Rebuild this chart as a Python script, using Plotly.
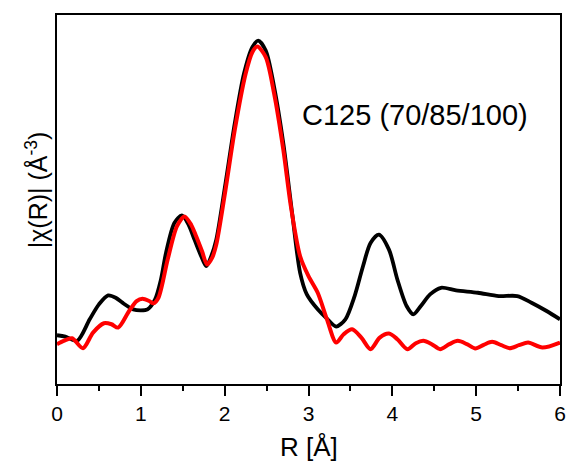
import plotly.graph_objects as go

# Experimental |chi(R)| (black)
r_exp = [0.00, 0.10, 0.24, 0.39, 0.50, 0.61, 0.70, 0.78, 0.91, 1.00, 1.08, 1.17, 1.24, 1.30, 1.40, 1.49,
         1.57, 1.64, 1.72, 1.78, 1.84, 1.90, 2.01, 2.12, 2.23, 2.33, 2.40, 2.49, 2.59, 2.70, 2.81,
         2.90, 2.98, 3.11, 3.22, 3.33, 3.44, 3.55, 3.65, 3.74, 3.84, 3.96, 4.06, 4.17, 4.25, 4.34,
         4.45, 4.58, 4.76, 5.02, 5.27, 5.49, 5.66, 5.84, 6.00]
chi_exp = [1.42, 1.38, 1.25, 1.90, 2.35, 2.62, 2.55, 2.40, 2.20, 2.17, 2.20, 2.50, 3.10, 3.90, 4.80, 5.03,
           4.75, 4.30, 3.80, 3.50, 3.80, 4.30, 6.00, 7.80, 9.30, 10.10, 10.30, 10.00, 8.90, 7.20, 5.00,
           3.30, 2.65, 2.20, 1.92, 1.68, 1.90, 2.60, 3.50, 4.20, 4.45, 4.00, 3.10, 2.30, 2.05, 2.30,
           2.65, 2.85, 2.77, 2.70, 2.60, 2.60, 2.40, 2.15, 1.90]

# Fit (red)
r_fit = [0.00, 0.08, 0.18, 0.31, 0.43, 0.56, 0.65, 0.73, 0.86, 0.95, 1.02, 1.10, 1.15, 1.21, 1.32, 1.43,
         1.52, 1.60, 1.66, 1.73, 1.79, 1.85, 1.90, 2.01, 2.12, 2.25, 2.33, 2.39, 2.49, 2.59, 2.70,
         2.79, 2.90, 3.00, 3.11, 3.22, 3.33, 3.42, 3.52, 3.63, 3.74, 3.85, 3.96, 4.06, 4.18, 4.28,
         4.37, 4.47, 4.57, 4.68, 4.78, 4.89, 4.99, 5.09, 5.19, 5.30, 5.40, 5.51, 5.62, 5.79, 6.00]
chi_fit = [1.15, 1.25, 1.33, 1.03, 1.50, 1.78, 1.75, 1.65, 2.15, 2.45, 2.52, 2.45, 2.38, 2.55, 3.70, 4.70,
           5.00, 4.75, 4.40, 3.95, 3.55, 3.75, 4.15, 5.80, 7.60, 9.30, 9.95, 10.12, 9.80, 8.70, 7.00,
           5.30, 3.80, 3.20, 2.70, 1.90, 1.20, 1.45, 1.60, 1.35, 1.00, 1.35, 1.47, 1.30, 1.00, 1.18,
           1.25, 1.15, 1.00, 1.15, 1.25, 1.15, 1.02, 1.13, 1.22, 1.12, 1.03, 1.12, 1.20, 1.05, 1.20]

x_ticks = [0, 1, 2, 3, 4, 5, 6]
label_text = "C125 (70/85/100)"

FONT = "Liberation Sans, Arial, sans-serif"

fig = go.Figure()
fig.add_trace(go.Scatter(x=r_exp, y=chi_exp, mode="lines",
                         line=dict(color="black", width=3.8, shape="spline", smoothing=0.8),
                         showlegend=False))
fig.add_trace(go.Scatter(x=r_fit, y=chi_fit, mode="lines",
                         line=dict(color="#ff0000", width=4, shape="spline", smoothing=0.8),
                         showlegend=False))

fig.update_layout(
    width=567, height=465, autosize=False,
    margin=dict(l=57, r=7, t=15, b=81),
    paper_bgcolor="white", plot_bgcolor="white",
    font=dict(family=FONT, color="black"),
    xaxis=dict(range=[0, 6], tickvals=x_ticks, ticks="outside", ticklen=10, tickwidth=2,
               tickcolor="black", showline=True, linewidth=2, linecolor="black", mirror=True,
               showgrid=False, zeroline=False, automargin=False, tickfont=dict(size=21, family=FONT),
               minor=dict(dtick=0.5, ticks="outside", ticklen=5, tickwidth=2, tickcolor="black")),
    yaxis=dict(range=[-0.05, 11.07], showticklabels=False, ticks="", showline=True, linewidth=2,
               linecolor="black", mirror=True, showgrid=False, zeroline=False, automargin=False),
    annotations=[
        dict(text=label_text, xref="paper", yref="paper", x=(300 - 57) / 503, y=(384 - 115) / 369,
             xanchor="left", yanchor="middle", showarrow=False, font=dict(size=29, family=FONT)),
        dict(text="|χ(R)| (Å<sup>-3</sup>)", xref="paper", yref="paper", x=(37 - 57) / 503, y=0.525,
             textangle=-90, xanchor="center", yanchor="middle", showarrow=False,
             font=dict(size=25, family=FONT)),
        dict(text="R [Å]", xref="paper", yref="paper", x=0.5, y=(384 - 447) / 369,
             xanchor="center", yanchor="middle", showarrow=False, font=dict(size=26, family=FONT)),
    ],
)

post = ("document.documentElement.style.overflow='hidden';"
        "document.body.style.margin='0';document.body.style.overflow='hidden';")

fig.write_html("out.html", config={"displayModeBar": False}, post_script=post)
